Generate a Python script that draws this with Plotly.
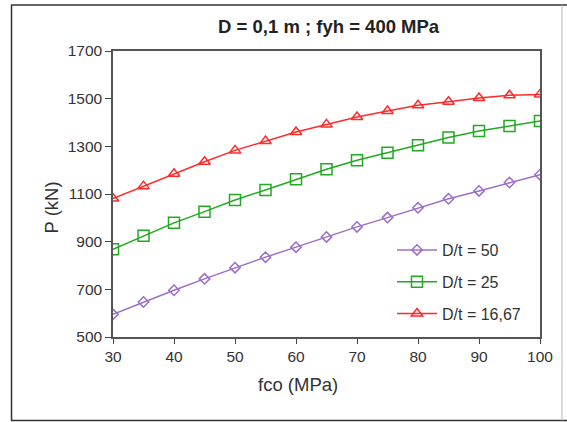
import plotly.graph_objects as go

# Concrete strength fco (MPa)
fco = [30, 35, 40, 45, 50, 55, 60, 65, 70, 75, 80, 85, 90, 95, 100]

# Axial capacity P (kN) for each D/t ratio
p_dt50 = [595, 647, 696, 744, 791, 835, 877, 920, 962, 1001, 1042, 1080, 1113, 1148, 1181]
p_dt25 = [868, 925, 979, 1026, 1075, 1117, 1162, 1204, 1242, 1273, 1305, 1337, 1364, 1385, 1406]
p_dt1667 = [1081, 1133, 1185, 1235, 1283, 1322, 1360, 1392, 1423, 1448, 1472, 1487, 1503, 1514, 1518]

series_names = ["D/t = 50", "D/t = 25", "D/t = 16,67"]
series_values = [p_dt50, p_dt25, p_dt1667]
series_colors = ["#9B6FC8", "#22A922", "#FF2A2A"]
series_symbols = ["diamond-open", "square-open", "triangle-up-open"]
series_sizes = [8, 11, 10]

y_ticks = [500, 700, 900, 1100, 1300, 1500, 1700]
x_ticks = [30, 40, 50, 60, 70, 80, 90, 100]

FONT = "Liberation Sans, Arial, sans-serif"

fig = go.Figure()
for i, (name, vals, col, sym, sz) in enumerate(
        zip(series_names, series_values, series_colors, series_symbols, series_sizes)):
    fig.add_trace(go.Scatter(
        x=fco, y=vals, name=name, mode="lines+markers",
        legendgroup=f"g{i}",
        line=dict(color=col, width=1.5),
        marker=dict(symbol=sym, size=sz, color=col, line=dict(width=1.5, color=col)),
    ))

L, R, T, B = 113, 27, 51, 85
W, H = 567, 422
pw, ph = W - L - R, H - T - B


def px_x(x):
    return (x - L) / pw


def px_y(y):
    return (H - B - y) / ph


fig.update_layout(
    width=W, height=H,
    margin=dict(l=L, r=R, t=T, b=B),
    paper_bgcolor="white", plot_bgcolor="white",
    font=dict(family=FONT, color="#333333"),
    title=dict(text="<b>D = 0,1 m ; fyh = 400 MPa</b>", x=0.505, xref="paper",
               xanchor="center", y=1 - 27 / H, yanchor="middle",
               font=dict(size=18.5, color="#222222")),
    showlegend=True,
    legend=dict(x=px_x(392), y=px_y(233), xanchor="left", yanchor="top",
                font=dict(size=16, color="#333333"), bgcolor="rgba(0,0,0,0)",
                tracegroupgap=8, itemwidth=40),
    xaxis=dict(range=[30, 100], tickvals=x_ticks, ticks="outside", ticklen=5,
               tickcolor="#444444", showgrid=False, zeroline=False,
               showline=True, linecolor="#555555", linewidth=1.5, mirror=True,
               tickfont=dict(size=15.5, color="#333333")),
    yaxis=dict(range=[500, 1700], tickvals=y_ticks, ticks="outside", ticklen=6,
               tickcolor="#444444", showgrid=False, zeroline=False,
               showline=True, linecolor="#555555", linewidth=1.5, mirror=True,
               tickfont=dict(size=15.5, color="#333333")),
    annotations=[
        dict(text="fco (MPa)", x=px_x(298), y=px_y(397), xref="paper", yref="paper",
             showarrow=False, font=dict(size=18.5, color="#333333")),
        dict(text="P (kN)", x=px_x(38), y=px_y(208), xref="paper", yref="paper",
             showarrow=False, textangle=-90, font=dict(size=18.5, color="#333333")),
    ],
    shapes=[
        # outer chart frame
        dict(type="line", xref="paper", yref="paper", x0=px_x(11.5), x1=px_x(11.5),
             y0=px_y(5), y1=px_y(420.5), line=dict(color="#333333", width=1.5)),
        dict(type="line", xref="paper", yref="paper", x0=px_x(11), x1=px_x(567),
             y0=px_y(5), y1=px_y(5), line=dict(color="#333333", width=1.5)),
        dict(type="line", xref="paper", yref="paper", x0=px_x(11), x1=px_x(567),
             y0=px_y(420.5), y1=px_y(420.5), line=dict(color="#333333", width=1.5)),
        dict(type="line", xref="paper", yref="paper", x0=px_x(562), x1=px_x(562),
             y0=px_y(5), y1=px_y(420.5), line=dict(color="#BBBBBB", width=1)),
    ],
)

fig.write_html("out.html")
